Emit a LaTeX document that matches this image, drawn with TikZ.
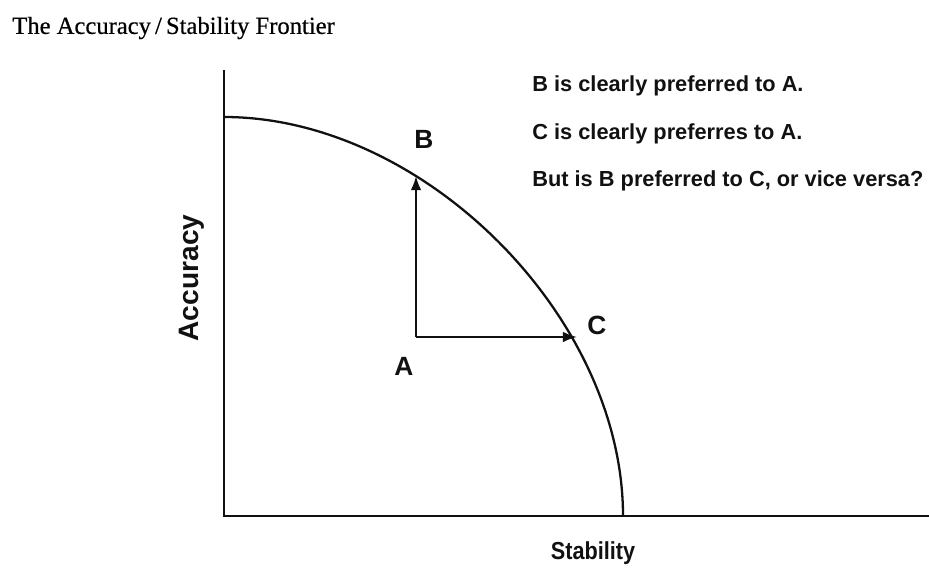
\documentclass[tikz,border=0pt]{standalone}
\usepackage{fontspec}
\setmainfont{Liberation Serif}
\setsansfont{Liberation Sans}
\newfontfamily\narrowsans[FakeStretch=0.88]{Liberation Sans}
\newfontfamily\titlefont[FakeBold=0.5]{Liberation Serif}
\usepackage{xcolor}
\usetikzlibrary{positioning,arrows.meta}
\definecolor{ink}{HTML}{111111}

\begin{document}
\begin{tikzpicture}[
    x=0.02cm, y=-0.02cm,
    axis/.style={draw=ink, line width=1.5pt},
    frontier/.style={draw=ink, line width=1.3pt},
    move/.style={draw=ink, line width=1.1pt, -{Latex[length=8pt,width=6pt]}},
    pointlabel/.style={font=\sffamily\bfseries\fontsize{15}{17}\selectfont, text=ink},
    remark/.style={font=\sffamily\bfseries\fontsize{12.4}{14}\selectfont, text=ink, anchor=west, inner sep=0pt},
    every node/.style={inner sep=1pt}
]
    \useasboundingbox (0,0) rectangle (929,568);

    % axes
    \coordinate (O) at (224,516);
    \coordinate (ytop) at (224,70);
    \coordinate (xend) at (929,516);
    \draw[axis] (ytop) -- (O) -- (xend);

    % frontier
    \coordinate (F0) at (224,117);
    \coordinate (F1) at (623,516);
    \draw[frontier] (F0) .. controls (423.5,117) and (623,316.5) .. (F1);

    % points and moves
    \coordinate (ptA) at (416,337);
    \coordinate (ptB) at (416,176);
    \coordinate (ptC) at (577,337);
    \draw[move] (ptA) -- (ptB);
    \draw[move] (ptA) -- (ptC);

    \node[pointlabel] (labB) at (424,139) {B};
    \node[pointlabel] (labC) at (597,325) {C};
    \node[pointlabel] (labA) at (404,366) {A};

    % axis labels
    \node[font=\sffamily\bfseries\fontsize{16}{18}\selectfont, text=ink, rotate=90] (acc) at (192,278) {Accuracy};
    \node[font=\narrowsans\bfseries\fontsize{14}{16}\selectfont, text=ink] (stab) at (593,553) {Stability};

    % title and remarks
    \node[font=\titlefont\fontsize{14}{16}\selectfont, anchor=west, inner sep=0pt] (title) at (12,28) {The Accuracy\,/\,Stability Frontier};
    \node[remark] (r1) at (532,86) {B is clearly preferred to A.};
    \node[remark] (r2) at (532,134) {C is clearly preferres to A.};
    \node[remark] (r3) at (532,181) {But is B preferred to C, or vice versa?};
\end{tikzpicture}
\end{document}
